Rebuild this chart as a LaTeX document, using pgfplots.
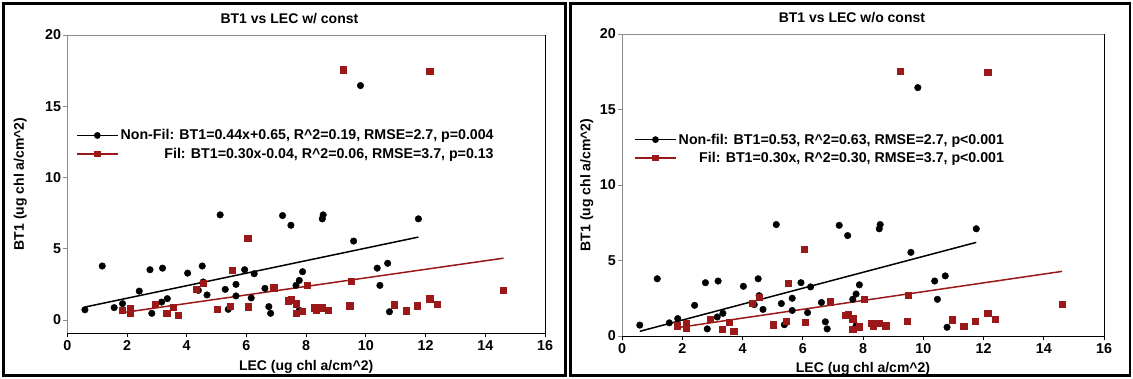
\documentclass[border=0pt]{standalone}
\usepackage{fontspec}
\setmainfont{Liberation Sans}
\usepackage{pgfplots}
\usepackage{pgfplotstable}
\pgfplotsset{compat=1.18}
\definecolor{filred}{RGB}{155,24,24}

\pgfplotstableread{
x y
0.59 0.72
1.17 3.79
1.57 0.87
1.85 1.15
2.41 2.03
2.77 3.53
2.83 0.47
3.16 1.26
3.19 3.64
3.35 1.50
4.03 3.29
4.39 2.08
4.52 3.79
4.55 2.67
4.68 1.76
5.12 7.38
5.29 2.15
5.39 0.75
5.65 2.50
5.65 1.69
5.94 3.53
6.16 1.55
6.26 3.25
6.62 2.22
6.75 0.94
6.81 0.47
7.21 7.33
7.49 6.65
7.66 2.43
7.77 2.78
7.77 0.68
7.88 3.39
8.54 7.10
8.57 7.38
9.59 5.54
9.82 16.45
10.38 3.64
10.47 2.43
10.73 3.98
10.79 0.58
11.76 7.10
}\nonfil

\pgfplotstableread{
x y
1.83 0.68
2.12 0.82
2.12 0.51
2.94 1.10
3.33 0.47
3.55 0.91
3.71 0.33
4.33 2.15
4.55 2.57
5.03 0.75
5.45 0.98
5.52 3.51
6.04 5.76
6.07 0.94
6.91 2.27
7.40 1.36
7.50 1.43
7.66 1.15
7.66 0.47
7.88 0.61
8.04 2.43
8.26 0.87
8.33 0.68
8.42 0.87
8.55 0.87
8.75 0.68
9.24 17.56
9.46 1.00
9.50 2.71
10.96 1.08
11.34 0.65
11.73 1.00
12.14 17.45
12.14 1.50
12.40 1.10
14.61 2.10
}\fil

\pgfplotsset{
  myax/.style={
    scale only axis, anchor=south west, clip=false,
    xmin=0, xmax=16, ymax=20,
    xtick={0,2,...,16}, ytick={0,5,10,15,20},
    tick align=outside, tick pos=left, major tick length=4pt,
    axis line style={draw=gray!90, line width=0.8pt},
    x tick style={black, line width=0.8pt}, y tick style={gray!90, line width=0.8pt},
    /pgf/number format/assume math mode=true,
    tick label style={font=\fontsize{14.3}{16}\selectfont\bfseries, inner sep=2pt},
    xticklabel style={inner sep=3.5pt},
    every axis title/.style={font=\fontsize{14}{16}\selectfont\bfseries, anchor=center, at={(axis description cs:0.465,1)}, yshift=16pt},
    every axis x label/.style={font=\fontsize{14}{16}\selectfont\bfseries, anchor=center, at={(axis description cs:0.5,0)}, yshift=-34pt},
    xlabel={LEC (ug chl a/cm\textasciicircum 2)},
    ylabel={BT1 (ug chl a/cm\textasciicircum 2)},
    legend cell align=right,
    legend style={draw=none, fill=none, inner sep=0pt, row sep=2.5pt, font=\fontsize{14.2}{16}\selectfont\bfseries},
    legend image code/.code={\draw[mark repeat=2,mark phase=2,#1] plot coordinates {(0pt,0pt) (20.5pt,0pt) (41pt,0pt)};},
    after end axis/.code={\draw[black, line width=0.8pt] (rel axis cs:0,0) -- (rel axis cs:1,0) -- (rel axis cs:1,1);},
  },
  dots/.style={only marks, mark=*, mark size=3.3pt, black, forget plot},
  squares/.style={only marks, mark=square*, mark size=3.1pt, filred, mark options={draw=filred, fill=filred}, forget plot},
}

\begin{document}
\begin{tikzpicture}[font=\fontsize{14}{16}\selectfont\bfseries]
\useasboundingbox (0,0) rectangle (1133pt,379pt);

% ---------- left panel ----------
\begin{axis}[myax,
  at={(67.3pt,46pt)}, width=477.7pt, height=298pt,
  ymin=-0.91,
  title={BT1 vs LEC w/ const},
  every axis y label/.style={font=\fontsize{14}{16}\selectfont\bfseries, rotate=90, anchor=center, at={(axis description cs:-0.0983,0.5)}},
  legend style={at={(axis description cs:0.018,0.69)}, anchor=north west},
]
\addlegendimage{black, line width=1.5pt, mark=*, mark size=2.6pt}
\addlegendentry{Non-Fil: BT1=0.44x+0.65, R\textasciicircum 2=0.19, RMSE=2.7, p=0.004}
\addlegendimage{filred, line width=1.5pt, mark=square*, mark size=2.5pt}
\addlegendentry{Fil: BT1=0.30x-0.04, R\textasciicircum 2=0.06, RMSE=3.7, p=0.13}
\addplot[dots] table {\nonfil};
\addplot[squares] table {\fil};
\addplot[black, line width=1.5pt, no marks, forget plot] coordinates {(0.59,0.91) (11.76,5.82)};
\addplot[filred, line width=1.5pt, no marks, forget plot] coordinates {(1.83,0.51) (14.61,4.34)};
\end{axis}

% ---------- right panel ----------
\begin{axis}[myax,
  at={(622pt,43pt)}, width=482pt, height=302pt,
  ymin=0,
  title={BT1 vs LEC w/o const},
  every axis title/.style={font=\fontsize{14}{16}\selectfont\bfseries, anchor=center, at={(axis description cs:0.477,1)}, yshift=16.5pt},
  every axis x label/.style={font=\fontsize{14}{16}\selectfont\bfseries, anchor=center, at={(axis description cs:0.5,0)}, yshift=-33pt},
  every axis y label/.style={font=\fontsize{14}{16}\selectfont\bfseries, rotate=90, anchor=center, at={(axis description cs:-0.073,0.5)}},
  legend style={at={(axis description cs:0.025,0.677)}, anchor=north west},
]
\addlegendimage{black, line width=1.5pt, mark=*, mark size=2.6pt}
\addlegendentry{Non-fil: BT1=0.53, R\textasciicircum 2=0.63, RMSE=2.7, p<0.001}
\addlegendimage{filred, line width=1.5pt, mark=square*, mark size=2.5pt}
\addlegendentry{Fil: BT1=0.30x, R\textasciicircum 2=0.30, RMSE=3.7, p<0.001}
\addplot[dots] table {\nonfil};
\addplot[squares] table {\fil};
\addplot[black, line width=1.5pt, no marks, forget plot] coordinates {(0.59,0.31) (11.76,6.2)};
\addplot[filred, line width=1.5pt, no marks, forget plot] coordinates {(1.83,0.55) (14.61,4.28)};
\end{axis}

% ---------- panel frames ----------
\draw[line width=2.2pt, black] (3.5pt,3.5pt) rectangle (565.5pt,375.5pt);
\draw[line width=2.2pt, black] (570.5pt,3.5pt) rectangle (1130pt,375.5pt);
\end{tikzpicture}
\end{document}
